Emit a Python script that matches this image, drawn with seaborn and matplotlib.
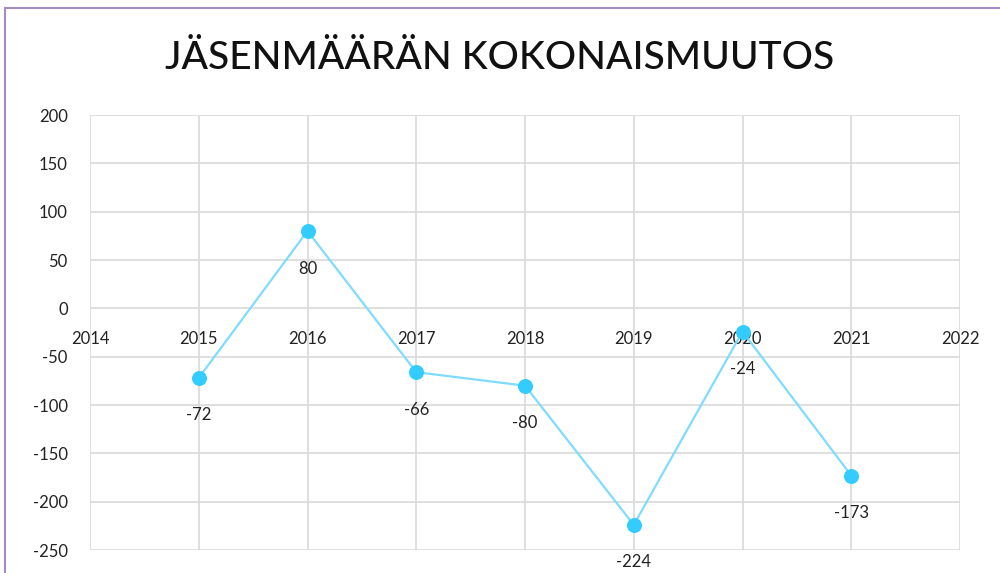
import matplotlib
matplotlib.use("Agg")
import matplotlib.pyplot as plt
import seaborn as sns
import pandas as pd
from matplotlib.patches import Rectangle

years = [2015, 2016, 2017, 2018, 2019, 2020, 2021]
values = [-72, 80, -66, -80, -224, -24, -173]
title = "JÄSENMÄÄRÄN KOKONAISMUUTOS"
x_ticks = [2014, 2015, 2016, 2017, 2018, 2019, 2020, 2021, 2022]
y_ticks = [-250, -200, -150, -100, -50, 0, 50, 100, 150, 200]

df = pd.DataFrame({"year": years, "value": values})

sns.set_style("white")
plt.rcParams["font.family"] = ["Lato", "DejaVu Sans"]
plt.rcParams["axes.unicode_minus"] = False

fig = plt.figure(figsize=(10, 5.73), dpi=100)
ax = fig.add_axes([0.09, 0.0401, 0.87, 0.7592])

sns.lineplot(data=df, x="year", y="value", ax=ax, color="#7fdcff", linewidth=1.6,
             marker="o", markersize=10, markerfacecolor="#33ccff",
             markeredgecolor="#33ccff", zorder=3)

for x, y in zip(years, values):
    ax.annotate(str(y), (x, y), xytext=(0, -27), textcoords="offset points",
                ha="center", va="center", fontsize=12, color="#222222")

ax.set_xlim(2014, 2022)
ax.set_ylim(-250, 200)
ax.set_xticks(x_ticks)
ax.set_yticks(y_ticks)
ax.grid(True, color="#d9d9d9", linewidth=1.2)
ax.set_axisbelow(True)
for s in ax.spines.values():
    s.set_visible(False)
ax.spines["bottom"].set_position(("data", 0))
ax.tick_params(axis="x", length=0, pad=16, labelsize=12, colors="#222222")
ax.tick_params(axis="y", length=0, pad=16, labelsize=12, colors="#222222")
ax.set_xlabel("")
ax.set_ylabel("")

fig.text(0.5, 0.898, title, ha="center", va="center", fontsize=28,
         fontweight="medium", color="#111111")

fig.patches.append(Rectangle((0.005, -0.05), 1.2, 1.036, transform=fig.transFigure,
                             fill=False, edgecolor="#a28cc0", linewidth=1.5))

fig.savefig("out.png", dpi=100)
